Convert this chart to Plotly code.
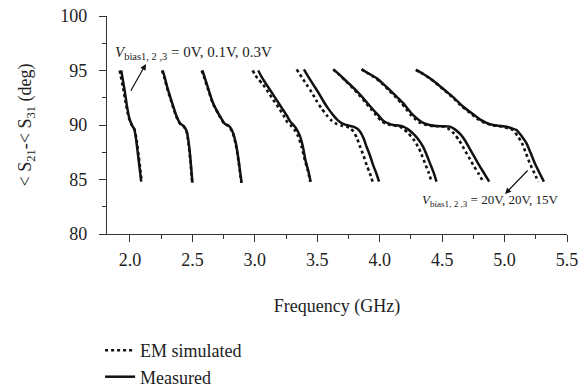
import plotly.graph_objects as go

# ---- data ----
meas_freq = [
    [1.930, 1.957, 1.975, 1.995, 2.015, 2.035, 2.050, 2.065, 2.080, 2.090],
    [2.262, 2.280, 2.300, 2.333, 2.373, 2.405, 2.430, 2.455, 2.470, 2.485, 2.500],
    [2.580, 2.600, 2.625, 2.666, 2.721, 2.760, 2.795, 2.825, 2.850, 2.872, 2.894],
    [3.027, 3.060, 3.094, 3.134, 3.174, 3.214, 3.254, 3.285, 3.310, 3.335, 3.361, 3.385, 3.405, 3.428, 3.447],
    [3.393, 3.430, 3.468, 3.508, 3.548, 3.588, 3.628, 3.668, 3.708, 3.748, 3.788, 3.815, 3.842, 3.870, 3.895, 3.922, 3.948, 3.972, 3.995],
    [3.628, 3.680, 3.735, 3.790, 3.842, 3.895, 3.948, 3.988, 4.028, 4.068, 4.108, 4.148, 4.188, 4.228, 4.268, 4.308, 4.348, 4.375, 4.402, 4.430, 4.455],
    [3.855, 3.915, 3.975, 4.030, 4.082, 4.135, 4.188, 4.228, 4.268, 4.308, 4.348, 4.400, 4.455, 4.510, 4.562, 4.602, 4.642, 4.682, 4.722, 4.762, 4.802, 4.840, 4.877],
    [4.290, 4.346, 4.402, 4.469, 4.536, 4.603, 4.669, 4.736, 4.802, 4.855, 4.909, 4.962, 5.016, 5.056, 5.096, 5.136, 5.176, 5.210, 5.242, 5.280, 5.315],
]
meas_phase = [
    [95.0, 93.2, 91.8, 90.6, 90.0, 89.6, 88.6, 87.2, 85.8, 84.8],
    [95.0, 94.3, 93.4, 92.2, 90.8, 90.1, 89.9, 89.4, 88.4, 86.8, 84.7],
    [95.0, 94.3, 93.4, 92.0, 90.8, 90.1, 89.9, 89.3, 88.2, 86.6, 84.7],
    [95.0, 94.3, 93.7, 93.0, 92.3, 91.6, 90.9, 90.3, 90.0, 89.6, 89.0, 88.0, 86.8, 85.8, 84.8],
    [95.1, 94.4, 93.7, 93.0, 92.2, 91.5, 90.9, 90.4, 90.1, 89.95, 89.85, 89.7, 89.4, 88.8, 88.0, 87.2, 86.3, 85.6, 84.8],
    [95.1, 94.6, 94.0, 93.4, 92.8, 92.1, 91.4, 90.9, 90.4, 90.15, 90.0, 89.95, 89.85, 89.6, 89.2, 88.7, 88.0, 87.3, 86.5, 85.7, 84.8],
    [95.1, 94.7, 94.3, 93.75, 93.2, 92.6, 92.0, 91.45, 90.9, 90.5, 90.2, 90.0, 89.9, 89.88, 89.85, 89.6, 89.2, 88.6, 87.8, 87.0, 86.2, 85.5, 84.8],
    [95.05, 94.7, 94.28, 93.7, 93.06, 92.4, 91.68, 91.1, 90.52, 90.2, 90.0, 89.92, 89.84, 89.7, 89.54, 89.0, 88.32, 87.4, 86.49, 85.6, 84.8],
]
sim_freq = [
    [1.918, 1.948, 1.970, 1.992, 2.014, 2.036, 2.053, 2.069, 2.084, 2.094],
    [2.257, 2.276, 2.297, 2.330, 2.370, 2.402, 2.428, 2.453, 2.468, 2.483, 2.498],
    [2.575, 2.596, 2.622, 2.663, 2.718, 2.757, 2.792, 2.822, 2.848, 2.870, 2.892],
    [2.982, 3.020, 3.067, 3.108, 3.148, 3.190, 3.228, 3.258, 3.285, 3.315, 3.345, 3.375, 3.400, 3.425, 3.443],
    [3.335, 3.375, 3.415, 3.455, 3.495, 3.535, 3.575, 3.615, 3.655, 3.695, 3.735, 3.762, 3.790, 3.818, 3.843, 3.870, 3.896, 3.920, 3.943],
    [3.628, 3.678, 3.730, 3.783, 3.833, 3.884, 3.935, 3.972, 4.010, 4.047, 4.085, 4.122, 4.160, 4.196, 4.232, 4.270, 4.308, 4.335, 4.362, 4.390, 4.415],
    [3.855, 3.913, 3.970, 4.023, 4.073, 4.124, 4.175, 4.212, 4.250, 4.288, 4.325, 4.373, 4.423, 4.473, 4.520, 4.558, 4.596, 4.636, 4.676, 4.716, 4.756, 4.794, 4.829],
    [4.290, 4.345, 4.400, 4.466, 4.531, 4.596, 4.660, 4.725, 4.789, 4.840, 4.891, 4.940, 4.990, 5.028, 5.066, 5.104, 5.140, 5.172, 5.202, 5.238, 5.270],
]
sim_phase = meas_phase

x_ticks = [2.0, 2.5, 3.0, 3.5, 4.0, 4.5, 5.0, 5.5]
y_ticks = [80, 85, 90, 95, 100]

FONT = "Liberation Serif, Times New Roman, serif"
INK = "#111111"
TXT = "#222222"

fig = go.Figure()

for i, (f, p) in enumerate(zip(sim_freq, sim_phase)):
    fig.add_trace(go.Scatter(
        x=f, y=p, mode="lines", line=dict(color=INK, width=2.6, dash="dot", shape="spline", smoothing=0.6),
        name="EM simulated", legendgroup="sim", showlegend=(i == 0)))

for i, (f, p) in enumerate(zip(meas_freq, meas_phase)):
    fig.add_trace(go.Scatter(
        x=f, y=p, mode="lines", line=dict(color=INK, width=2.5, shape="spline", smoothing=0.6),
        name="Measured", legendgroup="meas", showlegend=(i == 0)))

fig.update_layout(
    width=579, height=389,
    margin=dict(l=107, r=12, t=16, b=155, autoexpand=False),
    paper_bgcolor="white", plot_bgcolor="white",
    font=dict(family=FONT, size=18, color=TXT),
    showlegend=True,
    legend=dict(x=-0.015, y=-0.45, xanchor="left", yanchor="top",
                font=dict(size=18, family=FONT, color=TXT), tracegroupgap=0,
                bgcolor="rgba(0,0,0,0)"),
    xaxis=dict(range=[1.816, 5.5], tickvals=x_ticks, ticktext=[f"{v:.1f}" for v in x_ticks],
               showgrid=False, zeroline=False, showline=True, linecolor="#333333", linewidth=1.2,
               ticks="outside", ticklen=7, tickwidth=1.2, tickcolor="#333333",
               minor=dict(dtick=0.25, tick0=2.0, ticks="outside", ticklen=4, tickwidth=1.2, tickcolor="#333333"),
               tickfont=dict(size=18, family=FONT, color=TXT), ticklabelstandoff=2,
               title=dict(text="Frequency (GHz)", font=dict(size=18, family=FONT, color=TXT), standoff=30)),
    yaxis=dict(range=[80, 100], tickvals=y_ticks,
               showgrid=False, zeroline=False, showline=True, linecolor="#333333", linewidth=1.2,
               ticks="outside", ticklen=7, tickwidth=1.2, tickcolor="#333333",
               minor=dict(dtick=2.5, tick0=80, ticks="outside", ticklen=4, tickwidth=1.2, tickcolor="#333333"),
               tickfont=dict(size=18, family=FONT, color=TXT), ticklabelstandoff=8,
               title=dict(text="&lt; S<sub>21</sub>-&lt; S<sub>31</sub> (deg)",
                          font=dict(size=18, family=FONT, color=TXT), standoff=23)),
)

fig.add_annotation(
    x=2.128, y=95.6, ax=2.0, ay=93.0, xref="x", yref="y", axref="x", ayref="y",
    text="", showarrow=True, arrowhead=2, arrowsize=1, arrowwidth=1.2, arrowcolor=INK, arrowside="end")
fig.add_annotation(
    x=1.864, y=96.6, xref="x", yref="y", xanchor="left", yanchor="middle", showarrow=False,
    text="<i>V</i><sub>bias1, 2 ,3</sub> = 0V, 0.1V, 0.3V", font=dict(size=15, family=FONT, color=TXT))

fig.add_annotation(
    x=5.004, y=83.67, ax=5.196, ay=85.96, xref="x", yref="y", axref="x", ayref="y",
    text="", showarrow=True, arrowhead=2, arrowsize=1, arrowwidth=1.2, arrowcolor=INK, arrowside="end")
fig.add_annotation(
    x=4.32, y=83.1, xref="x", yref="y", xanchor="left", yanchor="middle", showarrow=False,
    text="<i>V</i><sub>bias1, 2 ,3</sub> = 20V, 20V, 15V", font=dict(size=13, family=FONT, color=TXT))

fig.write_html("out.html")
